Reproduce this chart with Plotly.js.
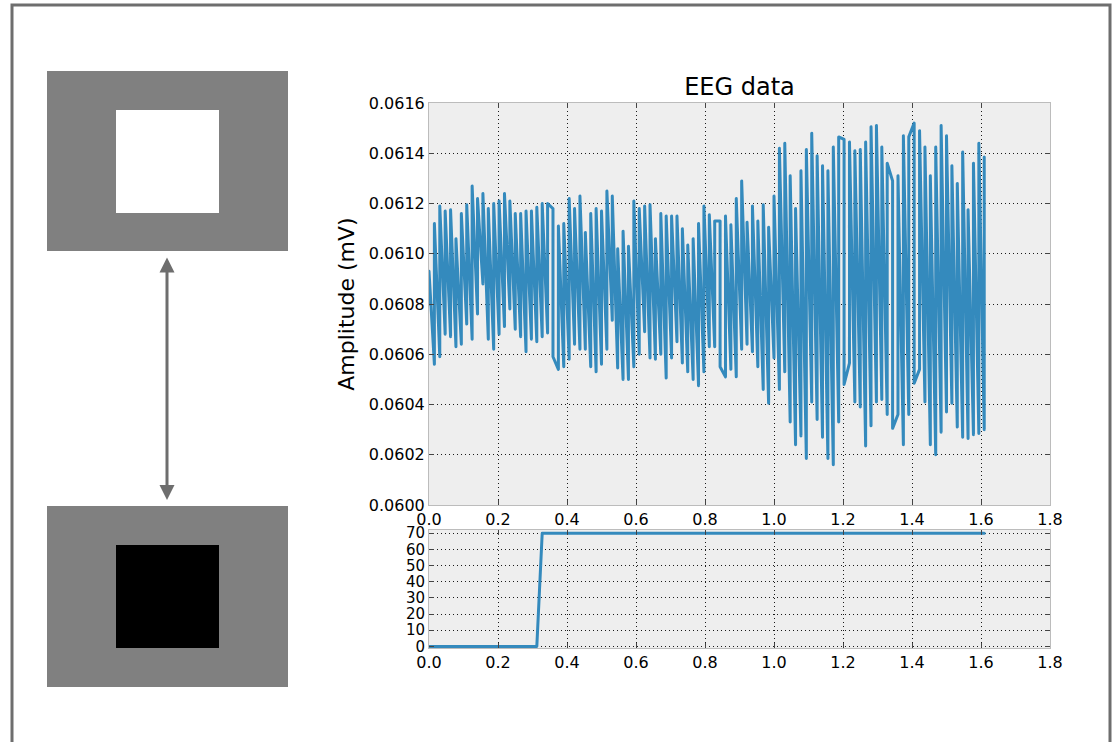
<!DOCTYPE html>
<html>
<head>
<meta charset="utf-8">
<script src="https://cdn.plot.ly/plotly-3.0.1.min.js"></script>
<style>html,body{margin:0;padding:0;background:#fff;}#chart{width:1116px;height:742px;}
.scatterlayer .js-line{stroke-linejoin:round;stroke-linecap:round;}</style>
</head>
<body>
<div id="chart"></div>
<script>
// Timestamps (s): two EEG samples share each timestamp
const timeSec = [0, 0.015625, 0.03125, 0.046875, 0.0625, 0.078125, 0.09375, 0.109375, 0.125, 0.140625,
  0.15625, 0.171875, 0.1875, 0.203125, 0.21875, 0.234375, 0.25, 0.265625, 0.28125, 0.296875,
  0.3125, 0.328125, 0.34375, 0.359375, 0.375, 0.390625, 0.40625, 0.421875, 0.4375, 0.453125,
  0.46875, 0.484375, 0.5, 0.515625, 0.53125, 0.546875, 0.5625, 0.578125, 0.59375, 0.609375,
  0.625, 0.640625, 0.65625, 0.671875, 0.6875, 0.703125, 0.71875, 0.734375, 0.75, 0.765625,
  0.78125, 0.796875, 0.8125, 0.828125, 0.84375, 0.859375, 0.875, 0.890625, 0.90625, 0.921875,
  0.9375, 0.953125, 0.96875, 0.984375, 1.0, 1.015625, 1.03125, 1.046875, 1.0625, 1.078125,
  1.09375, 1.109375, 1.125, 1.140625, 1.15625, 1.171875, 1.1875, 1.203125, 1.21875, 1.234375,
  1.25, 1.265625, 1.28125, 1.296875, 1.3125, 1.328125, 1.34375, 1.359375, 1.375, 1.390625,
  1.40625, 1.421875, 1.4375, 1.453125, 1.46875, 1.484375, 1.5, 1.515625, 1.53125, 1.546875,
  1.5625, 1.578125, 1.59375, 1.609375];

// First sample at each timestamp (mV)
const eegFirst = [0.06080, 0.06056, 0.06059, 0.06068, 0.06067, 0.06063, 0.06064, 0.06072, 0.06066, 0.06076,
  0.06088, 0.06066, 0.06062, 0.06068, 0.06071, 0.06078, 0.06070, 0.06067, 0.06061, 0.06066,
  0.06065, 0.06067, 0.060685, 0.06118, 0.06054, 0.06055, 0.06058, 0.06064, 0.06062, 0.06062,
  0.06055, 0.06053, 0.06056, 0.06062, 0.060735, 0.060545, 0.06050, 0.06050, 0.06055, 0.06060,
  0.06069, 0.060585, 0.06058, 0.06060, 0.060505, 0.060585, 0.06065, 0.060565, 0.06053, 0.06050,
  0.060475, 0.06053, 0.06063, 0.06063, 0.06113, 0.06051, 0.06054, 0.06051, 0.06062, 0.06064,
  0.06061, 0.06055, 0.06046, 0.060405, 0.060585, 0.06046, 0.06053, 0.06033, 0.06024, 0.060275,
  0.060185, 0.06041, 0.06034, 0.06027, 0.060185, 0.06016, 0.06033, 0.061455, 0.060565, 0.06041,
  0.06039, 0.060235, 0.060315, 0.06041, 0.06042, 0.06036, 0.06129, 0.06036, 0.06024, 0.06036,
  0.06152, 0.06054, 0.06041, 0.06024, 0.06020, 0.06029, 0.06037, 0.060405, 0.06031, 0.06027,
  0.060265, 0.06028, 0.060285, 0.06030];

// Second sample at each timestamp (mV)
const eegSecond = [0.06093, 0.06112, 0.06119, 0.06117, 0.061175, 0.06106, 0.06116, 0.061195, 0.06127, 0.06122,
  0.06124, 0.06118, 0.06120, 0.06121, 0.06124, 0.06121, 0.06116, 0.06116, 0.06117, 0.06117,
  0.061185, 0.06120, 0.06120, 0.06059, 0.06111, 0.06112, 0.06122, 0.06118, 0.06123, 0.061085,
  0.06116, 0.06118, 0.06117, 0.06125, 0.06123, 0.06102, 0.06109, 0.06103, 0.06121, 0.06118,
  0.06119, 0.061195, 0.06106, 0.06116, 0.06115, 0.06115, 0.06115, 0.06110, 0.061035, 0.06106,
  0.06112, 0.06119, 0.061155, 0.06113, 0.06055, 0.06115, 0.061115, 0.06122, 0.06129, 0.061125,
  0.06119, 0.06113, 0.061195, 0.061105, 0.06123, 0.06142, 0.06144, 0.06131, 0.06118, 0.06133,
  0.061415, 0.06148, 0.06139, 0.06135, 0.06133, 0.061425, 0.061465, 0.06048, 0.061445, 0.06141,
  0.061415, 0.061445, 0.061505, 0.06151, 0.061425, 0.06136, 0.060305, 0.06131, 0.06147, 0.061465,
  0.060485, 0.06149, 0.061425, 0.06131, 0.061425, 0.06151, 0.06147, 0.06135, 0.06128, 0.061405,
  0.061175, 0.06136, 0.06144, 0.061385];

// Stimulus marker channel (one value per timestamp)
const markerValue = [
  0, 0, 0, 0, 0, 0, 0, 0, 0, 0,
  0, 0, 0, 0, 0, 0, 0, 0, 0, 0,
  0, 70, 70, 70, 70, 70, 70, 70, 70, 70,
  70, 70, 70, 70, 70, 70, 70, 70, 70, 70,
  70, 70, 70, 70, 70, 70, 70, 70, 70, 70,
  70, 70, 70, 70, 70, 70, 70, 70, 70, 70,
  70, 70, 70, 70, 70, 70, 70, 70, 70, 70,
  70, 70, 70, 70, 70, 70, 70, 70, 70, 70,
  70, 70, 70, 70, 70, 70, 70, 70, 70, 70,
  70, 70, 70, 70, 70, 70, 70, 70, 70, 70,
  70, 70, 70, 70];

const titleText = 'EEG data';
const yTitleText = 'Amplitude (mV)';

// interleave the two samples per timestamp
const eegX = [], eegY = [];
for (let i = 0; i < timeSec.length; i++) {
  eegX.push(timeSec[i], timeSec[i]);
  eegY.push(eegFirst[i], eegSecond[i]);
}

const W = 1116, H = 742;
const px = x => x / W;
const py = y => 1 - y / H;

const lineColor = '#348ABD';
const fontFam = 'DejaVu Sans, sans-serif';

const axisCommon = {
  showgrid: true, gridcolor: '#1a1a1a', griddash: '1px,3px', gridwidth: 1,
  showline: true, linecolor: '#bcbcbc', linewidth: 1, mirror: 'ticks',
  ticks: 'inside', ticklen: 5, tickcolor: '#444', tickwidth: 1,
  zeroline: false, tickfont: {family: fontFam, size: 16, color: '#000'},
  fixedrange: true
};

const traces = [
  {x: eegX, y: eegY, type: 'scatter', mode: 'lines', xaxis: 'x', yaxis: 'y',
   line: {color: lineColor, width: 3}, hoverinfo: 'skip', showlegend: false},
  {x: timeSec, y: markerValue, type: 'scatter', mode: 'lines', xaxis: 'x2', yaxis: 'y2',
   line: {color: lineColor, width: 3}, hoverinfo: 'skip', showlegend: false}
];

const layout = {
  width: W, height: H,
  margin: {l: 0, r: 0, t: 0, b: 0},
  paper_bgcolor: '#ffffff', plot_bgcolor: '#eeeeee',
  font: {family: fontFam, color: '#000'},
  showlegend: false,
  title: {text: titleText, font: {family: fontFam, size: 24, color: '#000'},
          x: px(739.5), xanchor: 'center', xref: 'paper', y: py(87), yanchor: 'middle', yref: 'paper'},
  xaxis: Object.assign({}, axisCommon, {domain: [px(429), px(1050)], range: [0, 1.8], dtick: 0.2, tick0: 0,
          tickformat: '.1f', anchor: 'y'}),
  yaxis: Object.assign({}, axisCommon, {domain: [py(505), py(103)], range: [0.06, 0.0616], dtick: 0.0002, tick0: 0.06,
          tickformat: '.4f', anchor: 'x',
          title: {text: yTitleText, font: {family: fontFam, size: 22, color: '#000'}, standoff: 8}}),
  xaxis2: Object.assign({}, axisCommon, {domain: [px(429), px(1050)], range: [0, 1.8], dtick: 0.2, tick0: 0,
          tickformat: '.1f', anchor: 'y2'}),
  yaxis2: Object.assign({}, axisCommon, {domain: [py(648), py(530)], range: [-1, 72], dtick: 10, tick0: 0,
          anchor: 'x2', tickfont: {family: fontFam, size: 15, color: '#000'}}),
  shapes: [
    {type: 'rect', xref: 'paper', yref: 'paper', x0: px(12), x1: px(1110), y0: py(5), y1: py(780),
     line: {color: '#6e6e6e', width: 3}, fillcolor: 'rgba(0,0,0,0)', layer: 'below'},
    {type: 'rect', xref: 'paper', yref: 'paper', x0: px(47), x1: px(288), y0: py(71), y1: py(251),
     line: {width: 0}, fillcolor: '#808080'},
    {type: 'rect', xref: 'paper', yref: 'paper', x0: px(116), x1: px(219), y0: py(110), y1: py(213),
     line: {width: 0}, fillcolor: '#ffffff'},
    {type: 'rect', xref: 'paper', yref: 'paper', x0: px(47), x1: px(288), y0: py(506), y1: py(687),
     line: {width: 0}, fillcolor: '#808080'},
    {type: 'rect', xref: 'paper', yref: 'paper', x0: px(116), x1: px(219), y0: py(545), y1: py(648),
     line: {width: 0}, fillcolor: '#000000'}
  ],
  annotations: [
    {xref: 'paper', yref: 'paper', x: px(167), y: py(500), ax: 0, ay: -244, axref: 'pixel', ayref: 'pixel',
     text: '', showarrow: true, arrowside: 'end+start', arrowhead: 2, startarrowhead: 2,
     arrowsize: 1, startarrowsize: 1, arrowwidth: 3, arrowcolor: '#6e6e6e', standoff: 0, startstandoff: 0}
  ]
};

Plotly.newPlot('chart', traces, layout, {staticPlot: true, displayModeBar: false});
</script>
</body>
</html>
